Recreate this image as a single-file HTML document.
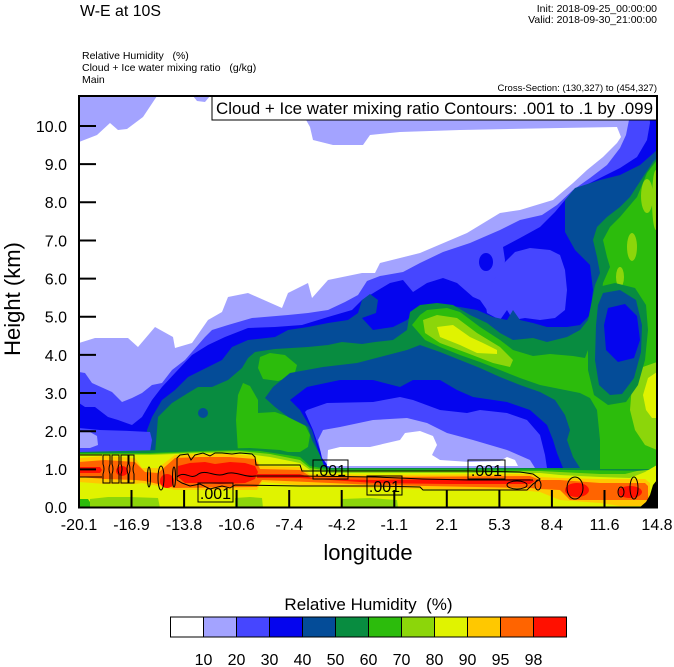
<!DOCTYPE html>
<html><head><meta charset="utf-8"><style>
html,body{margin:0;padding:0;background:#fff;}
svg{display:block;font-family:"Liberation Sans",Arial,sans-serif;}
</style></head><body>
<svg width="674" height="667" viewBox="0 0 674 667" xmlns="http://www.w3.org/2000/svg">
<defs><clipPath id="pc"><rect x="79" y="96" width="578" height="411.5"/></clipPath></defs>
<rect width="674" height="667" fill="#fff"/>
<text x="80" y="16" font-size="16" textLength="81" lengthAdjust="spacingAndGlyphs">W-E at 10S</text>
<text x="657" y="12" font-size="10.5" text-anchor="end">Init: 2018-09-25_00:00:00</text>
<text x="657" y="23" font-size="10.5" text-anchor="end">Valid: 2018-09-30_21:00:00</text>
<text x="82" y="59" font-size="10.5" xml:space="preserve">Relative Humidity   (%)</text>
<text x="82" y="71" font-size="10.5" xml:space="preserve">Cloud + Ice water mixing ratio   (g/kg)</text>
<text x="82" y="83" font-size="10.5">Main</text>
<text x="657" y="91" font-size="9.5" text-anchor="end">Cross-Section: (130,327) to (454,327)</text>

<g clip-path="url(#pc)">
<rect x="79" y="96" width="578" height="412" fill="#a3a3ff"/>
<path fill="#ffffff" d="M157,96 L193,96 L197,101 L205,102 L210,96 L305,96 L305,118 L310,127 L313,140 L333,145 L363,145 L370,135 L400,132 L460,130 L560,128 L617,127 L621,137 L617,143 L603,157 L587,170 L573,183 L553,200 L520,210 L500,213 L467,233 L420,253 L380,263 L375,273 L362,273 L328,280 L312,298 L308,283 L288,293 L282,308 L248,293 L228,297 L222,312 L208,320 L192,343 L175,348 L173,337 L155,327 L138,347 L128,338 L95,338 L79,343 L79,142 L97,135 L110,123 L118,130 L127,129 L143,117 Z"/>
<path fill="#4646ff" d="M79,372 L85,373 L92,383 L112,392 L122,402 L132,398 L142,393 L152,385 L162,383 L172,370 L185,360 L205,337 L212,330 L228,325 L252,318 L288,315 L308,313 L328,310 L345,302 L358,295 L367,281 L380,276 L403,272 L420,263 L443,252 L470,243 L500,230 L520,220 L542,215 L557,205 L573,190 L590,178 L607,165 L620,148 L626,135 L630,115 L630,96 L657,96 L657,508 L79,508 Z"/>
<path fill="#0505ee" d="M79,403 L85,407 L95,407 L108,417 L118,420 L132,425 L142,417 L152,400 L162,387 L175,373 L192,355 L208,345 L225,337 L248,328 L275,327 L302,325 L328,317 L352,310 L362,300 L375,292 L390,283 L403,280 L413,292 L427,283 L443,278 L457,283 L465,290 L473,297 L480,300 L487,310 L497,300 L503,280 L505,260 L503,247 L520,238 L540,227 L555,212 L565,200 L580,188 L600,178 L620,168 L637,157 L647,140 L650,123 L648,96 L657,96 L657,508 L79,508 Z"/>
<path fill="#4646ff" d="M505,262 L515,252 L530,248 L550,250 L560,255 L565,270 L567,290 L565,310 L555,318 L540,320 L525,318 L513,320 L507,310 L500,320 L487,313 L485,300 L490,285 L497,275 Z"/>
<ellipse cx="486" cy="262" rx="7" ry="9" fill="#0505ee"/>
<path fill="#044c98" d="M79,452 L147,452 L147,430 L152,417 L162,400 L175,390 L188,377 L202,370 L222,360 L232,347 L248,340 L275,337 L288,330 L308,327 L328,323 L348,320 L358,313 L362,300 L370,294 L378,300 L376,313 L362,318 L373,330 L393,327 L407,320 L417,310 L427,307 L443,305 L460,307 L477,310 L493,317 L507,320 L513,310 L520,320 L533,323 L547,327 L567,327 L580,325 L590,315 L593,290 L590,265 L575,250 L565,232 L565,200 L575,188 L600,180 L620,175 L640,165 L657,150 L657,508 L79,508 Z"/>
<path fill="#088c40" d="M79,453 L155,453 L157,430 L158,417 L172,403 L188,393 L198,387 L212,387 L228,380 L242,368 L248,358 L255,352 L275,349 L308,347 L328,345 L342,342 L362,344 L375,342 L393,340 L407,330 L410,312 L420,305 L437,303 L453,305 L470,315 L487,323 L500,333 L513,340 L533,338 L547,342 L567,337 L580,330 L588,320 L592,300 L595,285 L600,273 L597,257 L593,240 L597,227 L607,217 L620,207 L630,197 L643,177 L653,162 L657,158 L657,508 L79,508 Z"/>
<circle cx="203" cy="413" r="5" fill="#044c98"/>
<path fill="#2cbc0c" d="M260,357 L270,353 L285,355 L297,365 L294,376 L278,381 L263,379 L258,368 Z"/>
<path fill="#2cbc0c" d="M238,452 L236,420 L238,395 L243,383 L250,386 L258,400 L258,413 L275,412 L292,418 L305,425 L310,435 L308,447 L300,452 Z"/>
<path fill="#2cbc0c" d="M412,325 L420,315 L427,310 L447,308 L460,312 L480,327 L500,340 L513,350 L533,356 L550,354 L573,356 L585,358 L588,350 L590,338 L597,325 L600,307 L603,283 L610,267 L607,257 L603,240 L610,227 L620,217 L637,197 L647,173 L657,160 L657,470 L600,470 L600,440 L597,410 L590,398 L580,393 L560,389 L540,385 L520,378 L500,370 L480,362 L460,355 L440,347 L425,340 Z"/>
<path fill="#8cd60a" d="M423,320 L437,315 L457,318 L477,333 L500,347 L513,360 L510,367 L493,363 L467,353 L440,343 L425,333 Z"/>
<ellipse cx="647" cy="196" rx="6" ry="17" fill="#8cd60a"/>
<ellipse cx="632" cy="247" rx="5" ry="14" fill="#8cd60a"/>
<ellipse cx="620" cy="277" rx="4" ry="10" fill="#8cd60a"/>
<ellipse cx="656" cy="200" rx="4" ry="30" fill="#8cd60a"/>
<path fill="#8cd60a" d="M657,362 L640,368 L632,385 L630,410 L635,430 L645,445 L657,450 Z"/>
<path fill="#e0f300" d="M437,327 L453,325 L470,337 L483,343 L497,350 L497,354 L477,353 L460,345 L440,337 Z"/>
<path fill="#e0f300" d="M657,372 L648,378 L643,395 L646,410 L652,418 L657,418 Z"/>
<path fill="#088c40" d="M598,287 L615,283 L635,288 L646,305 L648,330 L645,360 L638,385 L626,402 L608,405 L594,395 L588,370 L588,330 L592,305 Z"/>
<path fill="#044c98" d="M603,293 L620,290 L636,300 L642,325 L641,352 L634,378 L622,394 L610,395 L599,385 L595,360 L596,325 L598,305 Z"/>
<path fill="#0505ee" d="M608,308 L625,304 L637,316 L640,340 L634,358 L618,362 L606,350 L604,325 Z"/>
<path fill="#044c98" d="M265,398 L273,387 L290,373 L323,367 L357,363 L380,357 L407,350 L420,345 L440,352 L460,360 L480,368 L500,377 L520,385 L540,392 L555,400 L565,415 L570,430 L567,440 L573,457 L580,468 L330,468 L320,455 L312,440 L308,427 L288,417 L275,407 Z"/>
<path fill="#0505ee" d="M290,400 L307,387 L340,380 L373,380 L400,387 L413,380 L440,380 L457,390 L473,397 L507,402 L530,410 L547,425 L553,440 L557,453 L563,468 L325,468 L318,450 L312,430 L300,410 Z"/>
<path fill="#4646ff" d="M305,412 L307,410 L327,403 L373,402 L400,397 L413,400 L440,410 L467,413 L480,410 L507,413 L527,420 L540,435 L545,455 L547,468 L328,468 L320,450 L313,430 Z"/>
<path fill="#a3a3ff" d="M318,440 L323,430 L340,427 L373,420 L407,418 L427,423 L447,433 L473,440 L507,450 L530,460 L535,468 L330,468 L322,458 Z"/>
<path fill="#ffffff" d="M327,466 L328,450 L340,447 L370,447 L400,440 L405,433 L420,431 L433,436 L437,445 L432,455 L440,460 L470,462 L500,461 L507,457 L515,460 L518,466 Z"/>
<path fill="#4646ff" d="M79,428 L100,430 L130,431 L150,432 L152,440 L150,452 L79,452 Z"/>
<path fill="#a3a3ff" d="M79,432 L90,432 L97,436 L98,445 L90,448 L79,448 Z"/>
<!-- low-level band -->
<path fill="#088c40" d="M79,452 L250,448 L280,450 L300,455 L310,464 L330,468 L540,468 L580,469 L657,469 L657,508 L79,508 Z"/>
<path fill="#2cbc0c" d="M79,453 L150,453 L200,451 L236,450 L260,451 L300,457 L310,466 L330,469.5 L540,469.5 L570,470 L657,471 L657,508 L79,508 Z"/>
<path fill="#8cd60a" d="M79,454 L150,454 L200,452 L240,451 L270,454 L300,460 L310,468 L330,471 L540,471 L560,472 L600,474 L625,474 L637,471 L657,469 L657,508 L79,508 Z"/>
<path fill="#e0f300" d="M79,455 L150,455 L200,453 L240,453 L270,457 L300,463 L310,470 L330,473 L540,473 L560,475 L600,477 L630,478 L645,472 L657,465 L657,508 L79,508 Z"/>
<path fill="#2cbc0c" d="M79,499 L88,499 L90,502 L90,508 L79,508 Z"/>
<path fill="#8cd60a" d="M90,499 L108,497 L130,497 L158,498 L160,508 L90,508 Z"/>
<path fill="#8cd60a" d="M235,498 L250,497 L262,498 L263,508 L235,508 Z"/>
<path fill="#8cd60a" d="M342,499 L370,498 L397,500 L398,508 L342,508 Z"/>
<path fill="#ffc800" d="M79,458 L105,456 L135,458 L142,468 L158,468 L175,455 L200,454 L230,454 L255,456 L260,466 L300,467 L310,474 L375,475 L530,474 L540,477 L560,478 L600,479 L645,479 L650,483 L650,503 L640,506 L620,506 L600,503 L560,500 L540,492 L530,491 L375,488 L308,486 L262,482 L257,490 L175,490 L158,486 L142,483 L135,484 L105,484 L79,482 Z"/>
<path fill="#ff6400" d="M79,462 L105,460 L135,462 L145,472 L158,473 L175,458 L200,457 L230,457 L255,459 L260,469 L300,470 L310,476 L375,477 L530,476 L540,480 L560,480 L600,483 L645,483 L648,486 L648,500 L600,500 L570,500 L560,490 L540,489 L530,488 L375,485 L308,482 L262,480 L257,487 L175,488 L158,484 L145,481 L135,480 L105,479 L79,477 Z"/>
<path fill="#ff1000" d="M79,467 L100,467 L102,470 L100,473 L79,473 Z"/>
<ellipse cx="122" cy="471" rx="6" ry="5" fill="#ff1000"/>
<ellipse cx="167" cy="481" rx="7" ry="7" fill="#ff1000"/>
<path fill="#ff1000" d="M178,466 L190,463 L205,462 L215,464 L230,462 L245,463 L255,466 L258,472 L255,479 L245,483 L220,484 L200,483 L185,483 L178,477 Z"/>
<path fill="#ff1000" d="M257,474 L300,474 L315,479 L375,480 L450,479 L530,479 L535,481 L530,484 L450,484 L375,483 L300,478 L257,478 Z"/>
<ellipse cx="577" cy="490" rx="12" ry="7" fill="#ff1000"/>
<ellipse cx="630" cy="492" rx="12" ry="6" fill="#ff1000"/>
<path fill="#000" d="M657,480 L657,508 L639,508 L646,502 L650,495 L653,485 Z"/>
<!-- cloud water contours -->
<g fill="none" stroke="#000" stroke-width="1">
<path d="M79,455 H102 M79,477 H102"/>
<path d="M103,455 H110 V464 Q108,469 110,474 V483 H103 V474 Q105,469 103,464 Z"/>
<path d="M112,455 H119 V464 Q117,469 119,474 V483 H112 V474 Q114,469 112,464 Z"/>
<path d="M121,455 H128 V464 Q126,469 128,474 V483 H121 V474 Q123,469 121,464 Z"/>
<path d="M129,455 H134 V464 Q132,469 134,474 V483 H129 V474 Q131,469 129,464 Z"/>
<ellipse cx="149" cy="477" rx="1.5" ry="10"/>
<ellipse cx="161" cy="478" rx="3" ry="12"/>
<ellipse cx="174" cy="477" rx="1.5" ry="10"/>
<path d="M177,480 L177,458 L180,455 L188,454 L191,460 L195,455 L203,453 L210,456 L215,453 L222,453 L232,454 L240,453 L252,454 L255,457 L256,465 L300,465 L302,471 L380,471 L470,471 L520,472 L533,474 L540,479 L533,484 L527,490 L423,490 L420,487 L375,486 L300,486 L235,485 L230,488 L222,486 L210,489 L200,484 L190,486 L182,483 Z"/>
<path d="M177,477 C185,470 190,480 197,475 C205,468 215,478 225,474 C235,470 245,478 255,476 L300,476 L375,477 L423,479 L470,480 L533,480"/>
<ellipse cx="517" cy="485" rx="10" ry="4"/>
<ellipse cx="575" cy="488" rx="8" ry="11"/>
<ellipse cx="634" cy="488" rx="4" ry="11"/>
<ellipse cx="621" cy="492" rx="3" ry="5"/>
<ellipse cx="538" cy="485" rx="3" ry="5"/>
<rect x="198" y="483" width="35" height="19"/>
<rect x="313" y="460" width="35" height="19"/>
<rect x="468" y="460" width="37" height="19"/>
<rect x="367" y="476" width="35" height="19"/>
</g>
<g font-size="16" text-anchor="middle" fill="#000">
<text x="215.5" y="499">.001</text>
<text x="330.5" y="476">.001</text>
<text x="486.5" y="476">.001</text>
<text x="384.5" y="492">.001</text>
</g>
</g>

<!-- legend box -->
<rect x="212" y="96" width="445" height="24" fill="#fff" stroke="#000" stroke-width="1"/>
<text x="216" y="114" font-size="17" textLength="437" lengthAdjust="spacingAndGlyphs">Cloud + Ice water mixing ratio Contours: .001 to .1 by .099</text>

<!-- frame & ticks -->
<rect x="79" y="96" width="578" height="411.5" fill="none" stroke="#000" stroke-width="2"/>
<g stroke="#000" stroke-width="2">
<line x1="79" y1="469.35" x2="96" y2="469.35"/>
<line x1="79" y1="431.2" x2="96" y2="431.2"/>
<line x1="79" y1="393.05" x2="96" y2="393.05"/>
<line x1="79" y1="354.9" x2="96" y2="354.9"/>
<line x1="79" y1="316.75" x2="96" y2="316.75"/>
<line x1="79" y1="278.6" x2="96" y2="278.6"/>
<line x1="79" y1="240.45" x2="96" y2="240.45"/>
<line x1="79" y1="202.3" x2="96" y2="202.3"/>
<line x1="79" y1="164.15" x2="96" y2="164.15"/>
<line x1="79" y1="126" x2="96" y2="126"/>
<line x1="131.5" y1="507.5" x2="131.5" y2="490"/>
<line x1="184.1" y1="507.5" x2="184.1" y2="490"/>
<line x1="236.6" y1="507.5" x2="236.6" y2="490"/>
<line x1="289.2" y1="507.5" x2="289.2" y2="490"/>
<line x1="341.7" y1="507.5" x2="341.7" y2="490"/>
<line x1="394.3" y1="507.5" x2="394.3" y2="490"/>
<line x1="446.8" y1="507.5" x2="446.8" y2="490"/>
<line x1="499.4" y1="507.5" x2="499.4" y2="490"/>
<line x1="551.9" y1="507.5" x2="551.9" y2="490"/>
<line x1="604.5" y1="507.5" x2="604.5" y2="490"/>
</g>
<g font-size="16" text-anchor="end">
<text x="67" y="513">0.0</text>
<text x="67" y="475">1.0</text>
<text x="67" y="437">2.0</text>
<text x="67" y="399">3.0</text>
<text x="67" y="361">4.0</text>
<text x="67" y="322.5">5.0</text>
<text x="67" y="284.5">6.0</text>
<text x="67" y="246.5">7.0</text>
<text x="67" y="208">8.0</text>
<text x="67" y="170">9.0</text>
<text x="67" y="132">10.0</text>
</g>
<g font-size="16" text-anchor="middle">
<text x="79" y="530">-20.1</text>
<text x="131.5" y="530">-16.9</text>
<text x="184.1" y="530">-13.8</text>
<text x="236.6" y="530">-10.6</text>
<text x="289.2" y="530">-7.4</text>
<text x="341.7" y="530">-4.2</text>
<text x="394.3" y="530">-1.1</text>
<text x="446.8" y="530">2.1</text>
<text x="499.4" y="530">5.3</text>
<text x="551.9" y="530">8.4</text>
<text x="604.5" y="530">11.6</text>
<text x="657" y="530">14.8</text>
</g>
<text x="368" y="560" font-size="22" text-anchor="middle">longitude</text>
<text transform="translate(20,299) rotate(-90)" font-size="22" text-anchor="middle">Height (km)</text>

<!-- colorbar -->
<text x="368.5" y="610" font-size="17" text-anchor="middle" xml:space="preserve">Relative Humidity  (%)</text>
<g stroke="#000" stroke-width="1">
<rect x="170.5" y="617" width="33" height="20" fill="#ffffff"/>
<rect x="203.5" y="617" width="33" height="20" fill="#a3a3ff"/>
<rect x="236.5" y="617" width="33" height="20" fill="#4646ff"/>
<rect x="269.5" y="617" width="33" height="20" fill="#0505ee"/>
<rect x="302.5" y="617" width="33" height="20" fill="#044c98"/>
<rect x="335.5" y="617" width="33" height="20" fill="#088c40"/>
<rect x="368.5" y="617" width="33" height="20" fill="#2cbc0c"/>
<rect x="401.5" y="617" width="33" height="20" fill="#8cd60a"/>
<rect x="434.5" y="617" width="33" height="20" fill="#e0f300"/>
<rect x="467.5" y="617" width="33" height="20" fill="#ffc800"/>
<rect x="500.5" y="617" width="33" height="20" fill="#ff6400"/>
<rect x="533.5" y="617" width="33" height="20" fill="#ff1000"/>
</g>
<g font-size="16" text-anchor="middle">
<text x="203.5" y="665">10</text>
<text x="236.5" y="665">20</text>
<text x="269.5" y="665">30</text>
<text x="302.5" y="665">40</text>
<text x="335.5" y="665">50</text>
<text x="368.5" y="665">60</text>
<text x="401.5" y="665">70</text>
<text x="434.5" y="665">80</text>
<text x="467.5" y="665">90</text>
<text x="500.5" y="665">95</text>
<text x="533.5" y="665">98</text>
</g>
</svg>
</body></html>
